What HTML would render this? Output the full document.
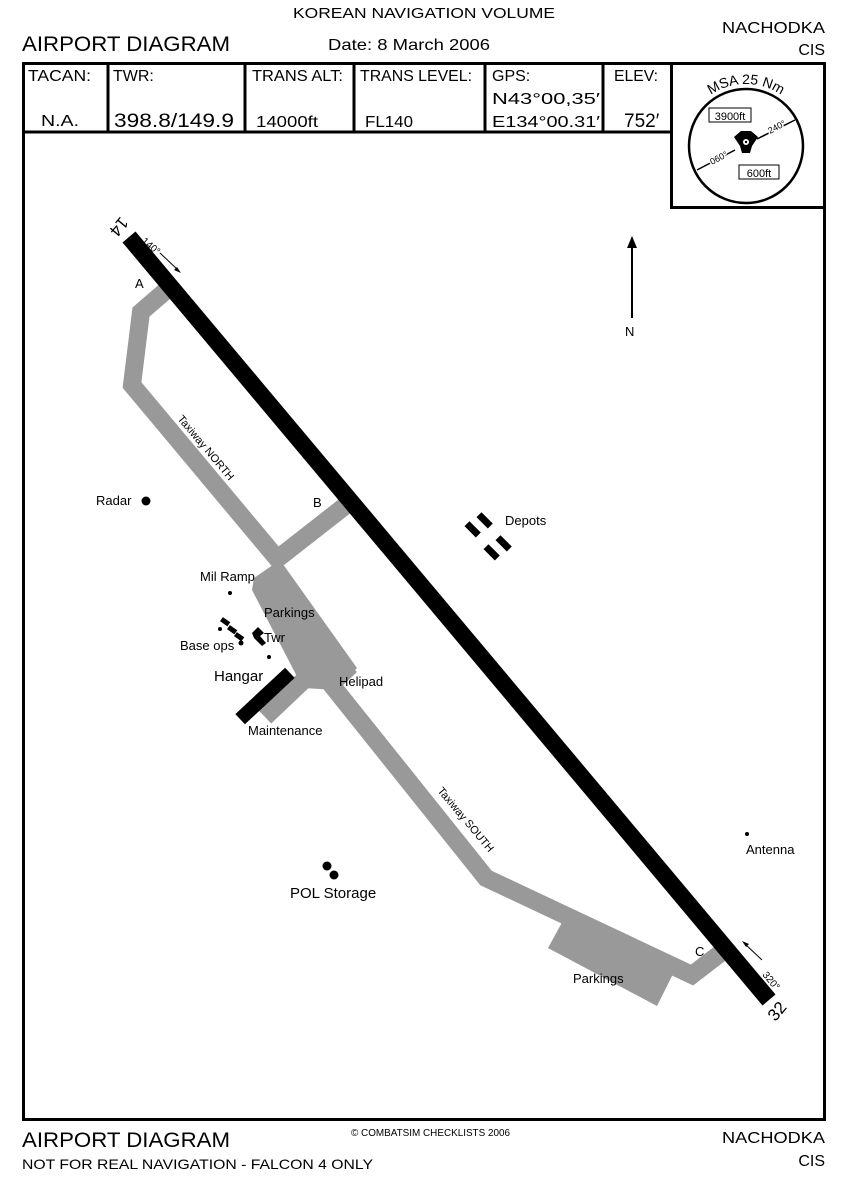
<!DOCTYPE html>
<html><head><meta charset="utf-8"><style>
html,body{margin:0;padding:0;background:#fff;}
svg{display:block;font-family:"Liberation Sans",sans-serif;}
</style></head><body>
<svg width="850" height="1181" viewBox="0 0 850 1181" xmlns="http://www.w3.org/2000/svg">
<rect width="850" height="1181" fill="#fff"/>
<text x="424" y="18" font-size="15" text-anchor="middle" textLength="262" lengthAdjust="spacingAndGlyphs">KOREAN NAVIGATION VOLUME</text>
<text x="22" y="51" font-size="21" textLength="208" lengthAdjust="spacingAndGlyphs">AIRPORT DIAGRAM</text>
<text x="328" y="50" font-size="16" textLength="162" lengthAdjust="spacingAndGlyphs">Date: 8 March 2006</text>
<text x="825" y="33" font-size="16" text-anchor="end" textLength="103" lengthAdjust="spacingAndGlyphs">NACHODKA</text>
<text x="825" y="55" font-size="16" text-anchor="end">CIS</text>
<rect x="23.5" y="63.5" width="801" height="1056" fill="none" stroke="#000" stroke-width="3"/>
<line x1="23" y1="132" x2="671" y2="132" stroke="#000" stroke-width="3"/>
<g stroke="#000" stroke-width="3">
<line x1="108" y1="63" x2="108" y2="132"/>
<line x1="245" y1="63" x2="245" y2="132"/>
<line x1="354" y1="63" x2="354" y2="132"/>
<line x1="485" y1="63" x2="485" y2="132"/>
<line x1="603" y1="63" x2="603" y2="132"/>
</g>
<rect x="671.5" y="63.5" width="153" height="144" fill="none" stroke="#000" stroke-width="3"/>
<g font-size="16">
<text x="28" y="81" textLength="63" lengthAdjust="spacingAndGlyphs">TACAN:</text>
<text x="41" y="126" textLength="38" lengthAdjust="spacingAndGlyphs">N.A.</text>
<text x="113" y="81">TWR:</text>
<text x="114" y="127" font-size="19" textLength="120" lengthAdjust="spacingAndGlyphs">398.8/149.9</text>
<text x="252" y="81" textLength="91" lengthAdjust="spacingAndGlyphs">TRANS ALT:</text>
<text x="256" y="127" textLength="62" lengthAdjust="spacingAndGlyphs">14000ft</text>
<text x="360" y="81" textLength="112" lengthAdjust="spacingAndGlyphs">TRANS LEVEL:</text>
<text x="365" y="127" textLength="48" lengthAdjust="spacingAndGlyphs">FL140</text>
<text x="492" y="81">GPS:</text>
<text x="492" y="104" textLength="108" lengthAdjust="spacingAndGlyphs">N43°00,35′</text>
<text x="492" y="127" textLength="108" lengthAdjust="spacingAndGlyphs">E134°00.31′</text>
<text x="614" y="81" textLength="44" lengthAdjust="spacingAndGlyphs">ELEV:</text>
<text x="624" y="127" font-size="19">752′</text>
</g>
<!-- MSA -->
<circle cx="746" cy="146" r="57" fill="none" stroke="#000" stroke-width="2.5"/>
<path id="arc" d="M 692 115.5 A 62 62 0 0 1 800 115.5" fill="none"/>
<text font-size="14"><textPath href="#arc" startOffset="50%" text-anchor="middle">MSA 25 Nm</textPath></text>
<rect x="709" y="108" width="42" height="14" fill="#fff" stroke="#000"/>
<text x="730" y="120" font-size="11" text-anchor="middle">3900ft</text>
<rect x="739" y="165" width="40" height="14" fill="#fff" stroke="#000"/>
<text x="759" y="177" font-size="11" text-anchor="middle">600ft</text>
<line x1="697" y1="170" x2="735" y2="150" stroke="#000" stroke-width="1.5"/>
<line x1="757" y1="139" x2="795" y2="120" stroke="#000" stroke-width="1.5"/>
<text x="712" y="165" font-size="9" transform="rotate(-28 712 165)" fill="#000" stroke="#fff" stroke-width="3" paint-order="stroke">060°</text>
<text x="770" y="134" font-size="9" transform="rotate(-28 770 134)" fill="#000" stroke="#fff" stroke-width="3" paint-order="stroke">240°</text>
<polygon points="734,137 741,131 751,131 758,137 752,146 750,153 742,153 740,146" fill="#000"/>
<circle cx="746" cy="142" r="3" fill="#fff"/>
<circle cx="746" cy="142" r="1.2" fill="#000"/>
<!-- taxiways -->
<g fill="none" stroke="#999" stroke-width="18" stroke-linejoin="miter">
<polyline points="170,287 141,312 132,385 280,562"/>
<line x1="272" y1="563" x2="350" y2="502"/>
<polyline points="322,673 486,878 692,975 722,952"/>
<line x1="304" y1="680" x2="265" y2="717"/>
</g>
<polygon points="254,578 280,560 357,668 336,690 303,688 252,590" fill="#999"/>
<polygon points="317,672 345,660 357,672 336,692" fill="#999"/>
<polygon points="565,917 548,948 657,1006 674,972" fill="#999"/>
<!-- runway -->
<line x1="129" y1="237" x2="769" y2="1000" stroke="#000" stroke-width="17"/>
<text x="0" y="0" font-size="17" transform="translate(118,226) rotate(130)" text-anchor="middle" dominant-baseline="middle">14</text>
<text x="0" y="0" font-size="17" transform="translate(778,1012) rotate(-50)" text-anchor="middle" dominant-baseline="middle">32</text>
<text x="141" y="242" font-size="10" transform="rotate(40 141 242)">140°</text>
<line x1="160" y1="253" x2="178" y2="270" stroke="#000"/>
<polygon points="181,273 174,270 177,267" fill="#000"/>
<text x="762" y="975" font-size="10" transform="rotate(50 762 975)">320°</text>
<line x1="762" y1="960" x2="745" y2="944" stroke="#000"/>
<polygon points="742,941 749,944 746,947" fill="#000"/>
<g font-size="13">
<text x="135" y="288">A</text>
<text x="313" y="507">B</text>
<text x="695" y="956">C</text>
<text x="96" y="505">Radar</text>
<text x="505" y="525">Depots</text>
<text x="200" y="581">Mil Ramp</text>
<text x="264" y="617">Parkings</text>
<text x="264" y="642">Twr</text>
<text x="180" y="650">Base ops</text>
<text x="214" y="681" font-size="15">Hangar</text>
<text x="339" y="686">Helipad</text>
<text x="248" y="735">Maintenance</text>
<text x="290" y="898" font-size="15">POL Storage</text>
<text x="746" y="854">Antenna</text>
<text x="573" y="983">Parkings</text>
<text x="625" y="336">N</text>
</g>
<text x="177" y="419" font-size="11" transform="rotate(50 177 419)">Taxiway NORTH</text>
<text x="437" y="791" font-size="11" transform="rotate(50 437 791)">Taxiway SOUTH</text>
<line x1="632" y1="318" x2="632" y2="246" stroke="#000" stroke-width="2"/>
<polygon points="632,236 627,248 637,248" fill="#000"/>
<circle cx="146" cy="501" r="4.5" fill="#000"/>
<g fill="#000">
<rect x="465" y="526" width="16" height="7" transform="rotate(45 473 529)"/>
<rect x="477" y="517" width="16" height="7" transform="rotate(45 485 520)"/>
<rect x="484" y="549" width="16" height="7" transform="rotate(45 492 552)"/>
<rect x="496" y="540" width="16" height="7" transform="rotate(45 504 543)"/>
<rect x="231" y="689" width="68" height="14" transform="rotate(-43 265 696)"/>
<rect x="221" y="619" width="9" height="5" transform="rotate(35 225 621)"/>
<rect x="228" y="627" width="9" height="5" transform="rotate(35 232 629)"/>
<rect x="235" y="634" width="9" height="5" transform="rotate(35 239 636)"/>
<polygon points="252,633 258,627 264,633 260,636 266,643 262,646 254,638"/>
<circle cx="230" cy="593" r="2"/>
<circle cx="220" cy="629" r="2"/>
<circle cx="241" cy="643" r="2.5"/>
<circle cx="269" cy="657" r="2"/>
<circle cx="327" cy="866" r="4.5"/>
<circle cx="334" cy="875" r="4.5"/>
<circle cx="747" cy="834" r="2"/>
</g>
<text x="22" y="1147" font-size="21" textLength="208" lengthAdjust="spacingAndGlyphs">AIRPORT DIAGRAM</text>
<text x="22" y="1169" font-size="14" textLength="351" lengthAdjust="spacingAndGlyphs">NOT FOR REAL NAVIGATION - FALCON 4 ONLY</text>
<text x="351" y="1136" font-size="10" textLength="159" lengthAdjust="spacingAndGlyphs">© COMBATSIM CHECKLISTS 2006</text>
<text x="825" y="1143" font-size="16" text-anchor="end" textLength="103" lengthAdjust="spacingAndGlyphs">NACHODKA</text>
<text x="825" y="1166" font-size="16" text-anchor="end">CIS</text>
</svg>
</body></html>
